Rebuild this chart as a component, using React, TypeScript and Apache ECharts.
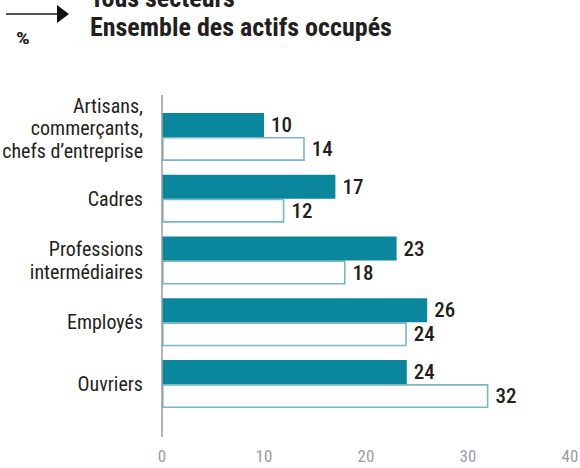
import React, { useEffect, useRef } from "react";
import * as echarts from "echarts";

const categories = [
  "Artisans,\ncommerçants,\nchefs d\u2019entreprise",
  "Cadres",
  "Professions\nintermédiaires",
  "Employés",
  "Ouvriers",
];
const seriesA = [10, 17, 23, 26, 24];
const seriesB = [14, 12, 18, 24, 32];
const xTicks = [0, 10, 20, 30, 40];
const titleTop = "Tous secteurs";
const titleMain = "Ensemble des actifs occupés";
const unitLabel = "%";

const FONT = "'Roboto Condensed', 'Liberation Sans Narrow', sans-serif";
const TEAL = "#0a879d";
const LIGHT = "#78b7c8";
const DARK = "#231f20";

export default function App() {
  const ref = useRef<HTMLDivElement>(null);
  useEffect(() => {
    if (!ref.current) return;
    const chart = echarts.init(ref.current, null, { renderer: "svg" });
    const barLabel = {
      show: true,
      position: "right",
      distance: 7,
      color: DARK,
      fontFamily: FONT,
      fontSize: 21,
      fontWeight: 500,
    };
    const option: any = {
      animation: false,
      backgroundColor: "#ffffff",
      grid: { left: 162, right: 10, top: 106, bottom: 53, containLabel: false, outerBoundsMode: "none" },
      xAxis: {
        type: "value",
        min: xTicks[0],
        max: xTicks[xTicks.length - 1],
        interval: 10,
        axisLine: { show: false },
        axisTick: { show: false },
        splitLine: { show: false },
        axisLabel: {
          margin: 32,
          color: "#9c9ba8",
          fontFamily: FONT,
          fontSize: 17,
        },
      },
      yAxis: {
        type: "category",
        data: categories,
        inverse: true,
        axisLine: { show: false },
        axisTick: { show: false },
        axisLabel: {
          margin: 19,
          color: DARK,
          fontFamily: FONT,
          fontSize: 20,
          lineHeight: 22.5,
          align: "right",
          formatter: (v: string) => (v.split("\n").length === 3 ? v + "\n{s| }" : v),
          rich: { s: { fontSize: 2, lineHeight: 17 } },
        },
      },
      series: [
        {
          type: "bar",
          data: seriesA,
          barWidth: 24,
          barGap: "0%",
          itemStyle: { color: TEAL },
          label: barLabel,
          z: 3,
        },
        {
          type: "bar",
          data: seriesB,
          barWidth: 24,
          barGap: "0%",
          itemStyle: { color: "#ffffff", borderColor: LIGHT, borderWidth: 1.6 },
          label: barLabel,
          z: 2,
        },
      ],
      graphic: [
        {
          id: "arrowLine",
          type: "line",
          shape: { x1: 6, y1: 14, x2: 60, y2: 14 },
          style: { stroke: "#555555", lineWidth: 2 },
        },
        {
          id: "arrowHead",
          type: "polygon",
          shape: { points: [[57, 5], [69, 14], [57, 23]] },
          style: { fill: "#111111" },
        },
        {
          id: "unit",
          type: "text",
          x: 16,
          y: 31,
          scaleX: 1.35,
          style: { text: unitLabel, fill: DARK, font: "bold 16px " + FONT },
        },
        {
          id: "titleTop",
          type: "text",
          x: 90,
          y: -15,
          style: { text: titleTop, fill: DARK, font: "bold 26px " + FONT },
        },
        {
          id: "titleMain",
          type: "text",
          x: 90,
          y: 14,
          style: { text: titleMain, fill: DARK, font: "bold 26px " + FONT },
        },
      ],
    };
    chart.setOption(option);
    const x0 = chart.convertToPixel({ xAxisIndex: 0 }, 0) as number;
    chart.setOption({
      graphic: [
        {
          id: "valueAxisLine",
          type: "line",
          shape: { x1: x0, y1: 95, x2: x0, y2: 437 },
          style: { stroke: "#9a9aa2", lineWidth: 1.5 },
          z: 10,
        },
      ],
    });
    return () => chart.dispose();
  }, []);
  return <div ref={ref} style={{ width: 580, height: 468, position: "absolute", left: 0, top: 0 }} />;
}
